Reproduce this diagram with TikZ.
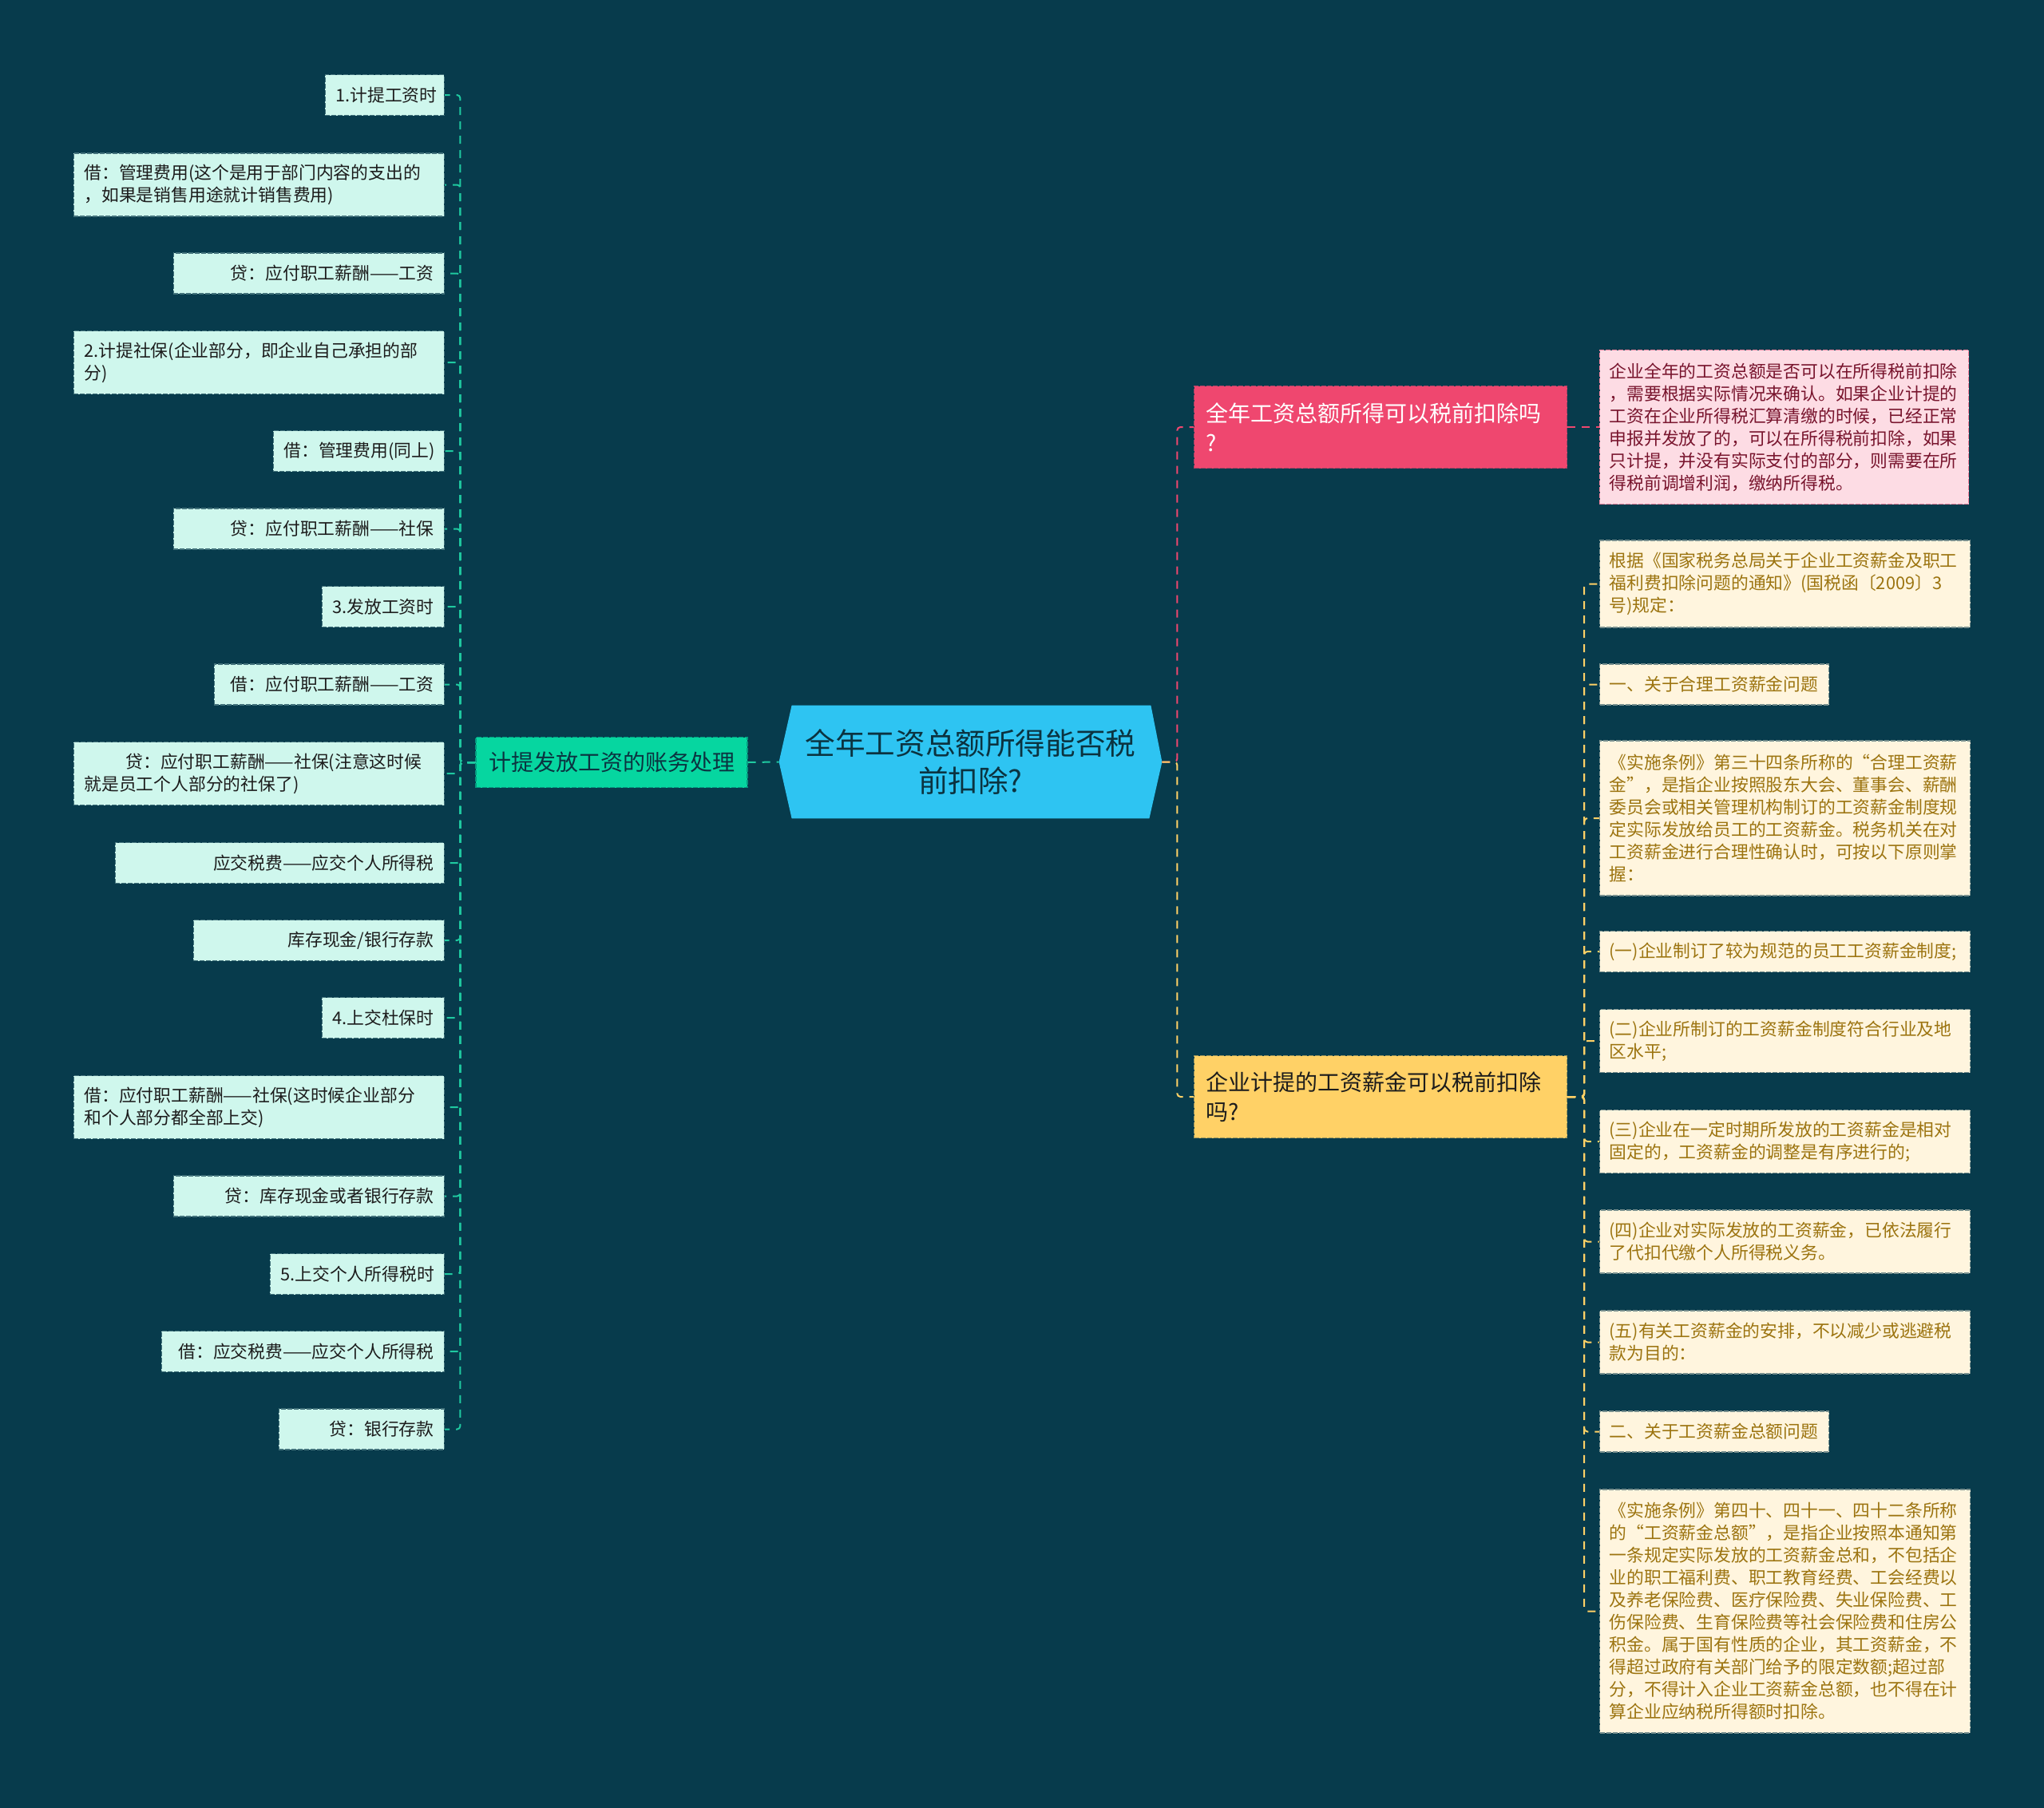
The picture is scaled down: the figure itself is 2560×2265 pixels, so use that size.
\documentclass[tikz,border=0pt]{standalone}
\usepackage{fontspec}
\setmainfont{Noto Sans CJK SC}
\usetikzlibrary{backgrounds}
\definecolor{bgc}{HTML}{073B4C}
\definecolor{rootc}{HTML}{2EC4F2}
\definecolor{greenc}{HTML}{06D6A0}
\definecolor{pinkc}{HTML}{EF476F}
\definecolor{yellowc}{HTML}{FFD166}
\definecolor{mint}{HTML}{CFF7ED}
\definecolor{blush}{HTML}{FDDCE4}
\definecolor{cream}{HTML}{FFF5DE}
\definecolor{goldink}{HTML}{9C7410}
\definecolor{berry}{HTML}{78142D}
\definecolor{leafink}{HTML}{1C1C1C}
\definecolor{deep}{HTML}{0B3340}
\definecolor{lwirec}{HTML}{1FC9A0}
\begin{document}
\begin{tikzpicture}[x=0.5pt,y=-0.5pt,
  box/.style={inner xsep=6.5pt,inner ysep=0pt,line width=0.6pt,dash pattern=on 3pt off 1pt},
  lleaf/.style={box,fill=mint,draw=bgc!70!mint,text=leafink,anchor=east,align=right,minimum height=25.5pt,font=\fontsize{10.9}{14}\selectfont},
  lwide/.style={lleaf,text width=219pt,align=left,minimum height=39.5pt},
  rleaf/.style={box,inner xsep=6pt,fill=cream,draw=bgc!55!cream,text=goldink,anchor=west,align=left,text width=220pt,minimum height=25.5pt,font=\fontsize{10.9}{14}\selectfont},
  branch/.style={box,inner xsep=7.5pt,anchor=west,align=left,text width=218.5pt,minimum height=51.5pt,font=\fontsize{14}{18.5}\selectfont},
  wire/.style={line width=1pt,dash pattern=on 5pt off 4pt,rounded corners=2pt}]
\useasboundingbox (0,0) rectangle (2560,2265);
\node[inner sep=0pt,minimum width=239.5pt,minimum height=70.5pt,align=center,text=deep,font=\fontsize{18.8}{23.5}\selectfont] (root) at (1215.5,954.5) {全年工资总额所得能否税\\前扣除?};
\begin{scope}[on background layer]
\fill[bgc] (0,0) rectangle (2560,2265);
\fill[rootc] (root.west) -- ([xshift=8pt]root.north west) -- ([xshift=-7pt]root.north east) -- (root.east) -- ([xshift=-8pt]root.south east) -- ([xshift=8pt]root.south west) -- cycle;
\end{scope}
\node[box,fill=greenc,draw=greenc!60!bgc,text=deep,minimum width=170pt,minimum height=31.5pt,font=\fontsize{14}{18.5}\selectfont] (lbr) at (766,955) {计提发放工资的账务处理};
\node[lleaf,text width=61.5pt] (l1) at (557,119) {1.计提工资时};
\node[lwide] (l2) at (557,231.5) {借：管理费用(这个是用于部门内容的支出的\\，如果是销售用途就计销售费用)};
\node[lleaf,text width=156.5pt] (l3) at (557,342.5) {贷：应付职工薪酬——工资};
\node[lwide] (l4) at (557,454) {2.计提社保(企业部分，即企业自己承担的部\\分)};
\node[lleaf,text width=94pt] (l5) at (557,565) {借：管理费用(同上)};
\node[lleaf,text width=156.5pt] (l6) at (557,662.5) {贷：应付职工薪酬——社保};
\node[lleaf,text width=63.5pt] (l7) at (557,760) {3.发放工资时};
\node[lleaf,text width=131pt] (l8) at (557,857.5) {借：应付职工薪酬——工资};
\node[lwide] (l9) at (557,969) {\hspace*{26pt}贷：应付职工薪酬——社保(注意这时候\\就是员工个人部分的社保了)};
\node[lleaf,text width=193pt] (l10) at (557,1081) {应交税费——应交个人所得税};
\node[lleaf,text width=144pt] (l11) at (557,1178) {库存现金/银行存款};
\node[lleaf,text width=63.5pt] (l12) at (557,1275) {4.上交杜保时};
\node[lwide] (l13) at (557,1387) {借：应付职工薪酬——社保(这时候企业部分\\和个人部分都全部上交)};
\node[lleaf,text width=156.5pt] (l14) at (557,1498.5) {贷：库存现金或者银行存款};
\node[lleaf,text width=96pt] (l15) at (557,1596) {5.上交个人所得税时};
\node[lleaf,text width=164pt] (l16) at (557,1693) {借：应交税费——应交个人所得税};
\node[lleaf,text width=90.5pt] (l17) at (557,1790.5) {贷：银行存款};
\node[branch,fill=pinkc,draw=pinkc!70!bgc,text=white] (pbr) at (1495,535) {全年工资总额所得可以税前扣除吗\\?};
\node[rleaf,fill=blush,draw=pinkc!60!blush,text=berry,text width=219pt,minimum height=96.5pt] (pleaf) at (2003,535) {企业全年的工资总额是否可以在所得税前扣除\\，需要根据实际情况来确认。如果企业计提的\\工资在企业所得税汇算清缴的时候，已经正常\\申报并发放了的，可以在所得税前扣除，如果\\只计提，并没有实际支付的部分，则需要在所\\得税前调增利润，缴纳所得税。};
\node[branch,fill=yellowc,draw=yellowc!60!bgc,text=leafink] (ybr) at (1495,1374) {企业计提的工资薪金可以税前扣除\\吗?};
\node[rleaf,minimum height=54.5pt] (r1) at (2003,731.5) {根据《国家税务总局关于企业工资薪金及职工\\福利费扣除问题的通知》(国税函〔2009〕3\\号)规定：};
\node[rleaf,text width=131.5pt] (r2) at (2003,857.5) {一、关于合理工资薪金问题};
\node[rleaf,minimum height=97pt] (r3) at (2003,1025) {《实施条例》第三十四条所称的“合理工资薪\\金”，是指企业按照股东大会、董事会、薪酬\\委员会或相关管理机构制订的工资薪金制度规\\定实际发放给员工的工资薪金。税务机关在对\\工资薪金进行合理性确认时，可按以下原则掌\\握：};
\node[rleaf] (r4) at (2003,1192) {(一)企业制订了较为规范的员工工资薪金制度;};
\node[rleaf,minimum height=39.5pt] (r5) at (2003,1304) {(二)企业所制订的工资薪金制度符合行业及地\\区水平;};
\node[rleaf,minimum height=39.5pt] (r6) at (2003,1430) {(三)企业在一定时期所发放的工资薪金是相对\\固定的，工资薪金的调整是有序进行的;};
\node[rleaf,minimum height=39.5pt] (r7) at (2003,1555.5) {(四)企业对实际发放的工资薪金，已依法履行\\了代扣代缴个人所得税义务。};
\node[rleaf,minimum height=39.5pt] (r8) at (2003,1681.5) {(五)有关工资薪金的安排，不以减少或逃避税\\款为目的：};
\node[rleaf,text width=131.5pt] (r9) at (2003,1793.5) {二、关于工资薪金总额问题};
\node[rleaf,minimum height=152.5pt] (r10) at (2003,2018.5) {《实施条例》第四十、四十一、四十二条所称\\的“工资薪金总额”，是指企业按照本通知第\\一条规定实际发放的工资薪金总和，不包括企\\业的职工福利费、职工教育经费、工会经费以\\及养老保险费、医疗保险费、失业保险费、工\\伤保险费、生育保险费等社会保险费和住房公\\积金。属于国有性质的企业，其工资薪金，不\\得超过政府有关部门给予的限定数额;超过部\\分，不得计入企业工资薪金总额，也不得在计\\算企业应纳税所得额时扣除。};
\foreach \i in {1,...,17} \draw[wire,lwirec] (lbr.west) -- ++(-19,0) |- (l\i.east);
\draw[wire,lwirec] (lbr.east) -- (root.west);
\draw[wire,pinkc] (root.east) -- ++(19,0) |- (pbr.west);
\draw[wire,yellowc] (root.east) -- ++(19,0) |- (ybr.west);
\draw[wire,pinkc] (pbr.east) -- (pleaf.west);
\foreach \i in {1,...,10} \draw[wire,yellowc] (ybr.east) -- ++(21,0) |- (r\i.west);
\end{tikzpicture}
\end{document}
